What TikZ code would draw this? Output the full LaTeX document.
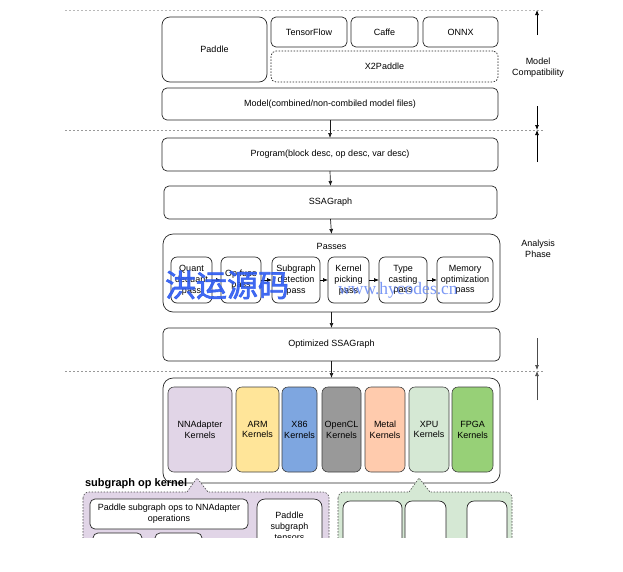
\documentclass[tikz,border=0pt]{standalone}
\usepackage{fontspec}
\setmainfont{Liberation Sans}
\newfontfamily\cjkfont[FakeBold=2]{Noto Sans CJK SC}
\newfontfamily\wmfont{Liberation Serif}
\usetikzlibrary{arrows.meta}
\definecolor{lilac}{HTML}{E1D5E7}
\definecolor{armc}{HTML}{FFE599}
\definecolor{x86c}{HTML}{7EA6E0}
\definecolor{oclc}{HTML}{999999}
\definecolor{metalc}{HTML}{FFCBAD}
\definecolor{xpuc}{HTML}{D5E8D4}
\definecolor{fpgac}{HTML}{97D077}
\definecolor{wmblue}{HTML}{2F5CF0}
\begin{document}
\begin{tikzpicture}[x=1pt,y=-1pt,
  every node/.style={font=\fontsize{9}{10.8}\selectfont, inner sep=0pt, outer sep=0pt, align=center},
  box/.style={draw=black!85, line width=0.7pt, rounded corners=5pt, fill=white},
  dbox/.style={box, dashed, dash pattern=on 1.5pt off 1.5pt},
  passbox/.style={box, minimum height=46pt, rounded corners=6pt},
  kern/.style={draw=black!75, line width=0.6pt, rounded corners=6pt, minimum height=85pt},
  arr/.style={-{Latex[length=5pt,width=4pt]}, line width=0.7pt, draw=black!90},
  sarr/.style={-{Latex[length=5pt,width=4pt]}, line width=0.7pt},
  sepline/.style={draw=gray!80, line width=0.6pt, dash pattern=on 2pt off 2pt},
  callout/.style={line width=0.6pt, draw=black!70, dash pattern=on 1.5pt off 1.5pt},
]
\useasboundingbox (0,0) rectangle (623,571);

% separator lines
\draw[sepline, draw=gray!55] (65,10) -- (543,10);
\draw[sepline] (65,130) -- (543,130);
\draw[sepline] (65,371) -- (543,371);

% model compatibility section
\node[box, rounded corners=8pt, minimum width=105pt, minimum height=65pt] (paddle) at (214.5,49.5) {Paddle};
\node[box, minimum width=76pt, minimum height=30pt] (tf) at (309,32) {TensorFlow};
\node[box, minimum width=67pt, minimum height=30pt] (caffe) at (384.5,32) {Caffe};
\node[box, minimum width=75pt, minimum height=30pt] (onnx) at (460.5,32) {ONNX};
\node[dbox, minimum width=227pt, minimum height=31pt] (x2p) at (384.5,66.5) {X2Paddle};
\node[box, minimum width=336pt, minimum height=32pt] (model) at (330,104) {Model(combined/non-combiled model files)};

% analysis phase
\node[box, minimum width=336pt, minimum height=33pt] (program) at (330,154.5) {Program(block desc, op desc, var desc)};
\node[box, minimum width=333pt, minimum height=33pt] (ssa) at (330.5,202.5) {SSAGraph};
\node[box, rounded corners=10pt, minimum width=337pt, minimum height=78pt] (passes) at (331.5,273) {};
\node (passlbl) at (331.5,246) {Passes};
\node[passbox, minimum width=41pt] (quant) at (191.5,280) {Quant\\dequant\\pass};
\node[passbox, minimum width=40pt] (opfuse) at (241,280) {Op fuse\\pass};
\node[passbox, minimum width=48pt] (subg) at (296,280) {Subgraph\\detection\\pass};
\node[passbox, minimum width=41pt] (kpick) at (348.5,280) {Kernel\\picking\\pass};
\node[passbox, minimum width=48pt] (tcast) at (403,280) {Type\\casting\\pass};
\node[passbox, minimum width=56pt] (mem) at (465,280) {Memory\\optimization\\pass};
\node[box, minimum width=337pt, minimum height=33pt] (opt) at (331.5,344.5) {Optimized SSAGraph};

% kernels
\node[box, rounded corners=10pt, minimum width=337pt, minimum height=105pt] (kcont) at (331.5,430.5) {};
\node[kern, fill=lilac, minimum width=64pt] (nna) at (200,429.5) {NNAdapter\\Kernels};
\node[kern, fill=armc, minimum width=43pt] (arm) at (257.5,429.5) {ARM\\Kernels};
\node[kern, fill=x86c, minimum width=35pt] (x86) at (299.5,429.5) {X86\\Kernels};
\node[kern, fill=oclc, minimum width=39pt] (ocl) at (341.5,429.5) {OpenCL\\Kernels};
\node[kern, fill=metalc, minimum width=40pt] (metal) at (385,429.5) {Metal\\Kernels};
\node[kern, fill=xpuc, minimum width=40pt] (xpu) at (429,429.5) {XPU\\Kernels};
\node[kern, fill=fpgac, minimum width=41pt] (fpga) at (472.5,429.5) {FPGA\\Kernels};

% main flow arrows
\draw[arr] (model.south) -- (program.north);
\draw[arr] (program.south) -- (ssa.north);
\draw[arr] (ssa.south) -- (passes.north);
\draw[arr] (passes.south) -- (opt.north);
\draw[arr] (opt.south) -- (kcont.north);
\draw[sarr] (quant) -- (opfuse);
\draw[sarr] (opfuse) -- (subg);
\draw[sarr] (subg) -- (kpick);
\draw[sarr] (kpick) -- (tcast);
\draw[sarr] (tcast) -- (mem);

% side phase arrows and labels
\coordinate (a1s) at (537,35);  \coordinate (a1e) at (537,10);
\coordinate (a2s) at (537,106); \coordinate (a2e) at (537,130);
\coordinate (a3s) at (537,162); \coordinate (a3e) at (537,130);
\coordinate (a4s) at (537,338); \coordinate (a4e) at (537,370);
\coordinate (a5s) at (537,400); \coordinate (a5e) at (537,371);
\draw[sarr] (a1s) -- (a1e);
\draw[sarr] (a2s) -- (a2e);
\draw[sarr] (a3s) -- (a3e);
\draw[sarr, draw=black!70] (a4s) -- (a4e);
\draw[sarr, draw=black!70] (a5s) -- (a5e);
\node (mclbl) at (538,68) {Model\\Compatibility};
\node (aplbl) at (538,249) {Analysis\\Phase};

% bottom callouts (cut off at the bottom)
\begin{scope}
\clip (0,0) rectangle (623,537);
% lilac callout
\draw[callout, fill=lilac, rounded corners=6pt] (83,492) rectangle (329,600);
\fill[lilac] (186,493) -- (197,478) -- (209,493) -- cycle;
\draw[callout] (187,492) -- (197,478) -- (208,492);
\node[box, minimum width=158pt, minimum height=30pt] (sgops) at (169,514) {Paddle subgraph ops to NNAdapter\\operations};
\node[box, rounded corners=8pt, minimum width=65pt, minimum height=54pt] (sgt) at (289.5,526) {Paddle\\subgraph\\tensors};
\node[box, minimum width=49pt, minimum height=40pt] (sb1) at (117.5,553) {};
\node[box, minimum width=47pt, minimum height=40pt] (sb2) at (178.5,553) {};
% green callout
\draw[callout, fill=xpuc, rounded corners=6pt] (338,492) rectangle (512,600);
\fill[xpuc] (408,493) -- (419,478) -- (431,493) -- cycle;
\draw[callout] (409,492) -- (419,478) -- (430,492);
\node[box, rounded corners=7pt, minimum width=59pt, minimum height=60pt] (g1) at (372.5,531) {};
\node[box, rounded corners=7pt, minimum width=41pt, minimum height=60pt] (g2) at (425.5,531) {};
\node[box, rounded corners=7pt, minimum width=40pt, minimum height=60pt] (g3) at (487,531) {};
\end{scope}
\node[anchor=west, font=\fontsize{11}{13}\selectfont\bfseries] (sgk) at (85,484) {subgraph op kernel};

% watermark
\node[text=wmblue, opacity=0.9, font=\cjkfont\fontsize{31}{34}\selectfont] (wm1) at (227,285) {洪运源码};
\node[text=wmblue!80, opacity=0.8, font=\wmfont\fontsize{17.5}{20}\selectfont] (wm2) at (398,290) {www.hycodes.cn};
\end{tikzpicture}
\end{document}
